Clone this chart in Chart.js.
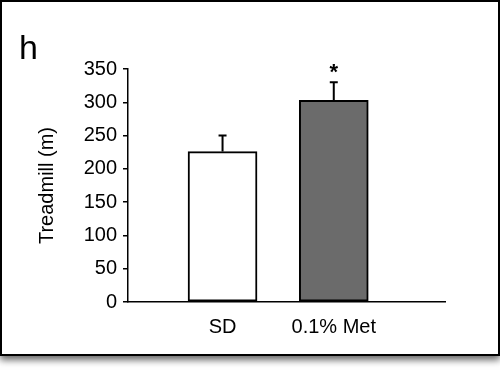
<!DOCTYPE html>
<html>
<head>
<meta charset="utf-8">
<script src="https://cdn.jsdelivr.net/npm/chart.js@4.4.1/dist/chart.umd.min.js"></script>
<style>
	html, body {
		margin: 0;
		padding: 0;
		background: #fff;
	}
	#frame {
		position: absolute;
		left: 0;
		top: 0;
		width: 496px;
		height: 352px;
		border: 2px solid #000;
		box-shadow: 0 4px 7px rgba(0, 0, 0, 0.6);
		background: #fff;
	}
	#wrap {
		position: absolute;
		left: 0;
		top: 0;
		width: 500px;
		height: 374px;
	}
</style>
</head>
<body>
<div id="frame"></div>
<div id="wrap"><canvas id="treadmillChart" width="500" height="374"></canvas></div>
<script>
const treadmillCanvas = document.getElementById("treadmillChart");

// data
const groups = ["SD", "0.1% Met"];
const means = [226, 303];
const errors = [24, 27];
const barColors = ["#ffffff", "#6b6b6b"];
const significance = ["", "*"];
const yTicks = [0, 50, 100, 150, 200, 250, 300, 350];

const font = "'Liberation Sans', Arial, sans-serif";

//////////////////////////////// error bars + star + panel letter

const extrasPlugin = {
	id: "extras",
	afterDatasetsDraw(chart) {
		const ctx = chart.ctx;
		const meta = chart.getDatasetMeta(0);
		const yScale = chart.scales.y;
		ctx.save();
		ctx.strokeStyle = "#000";
		ctx.lineWidth = 2;
		meta.data.forEach((bar, i) => {
			const top = yScale.getPixelForValue(means[i] + errors[i]);
			ctx.beginPath();
			ctx.moveTo(bar.x, bar.y);
			ctx.lineTo(bar.x, top);
			ctx.moveTo(bar.x - 4, top);
			ctx.lineTo(bar.x + 4, top);
			ctx.stroke();
			if (significance[i]) {
				ctx.fillStyle = "#000";
				ctx.font = "bold 22px " + font;
				ctx.textAlign = "center";
				ctx.textBaseline = "middle";
				ctx.fillText(significance[i], bar.x, top - 9);
			}
		});
		ctx.fillStyle = "#000";
		ctx.font = "34px " + font;
		ctx.textAlign = "left";
		ctx.textBaseline = "alphabetic";
		ctx.fillText("h", 19, 59);
		ctx.restore();
	},
};

//////////////////////////////// chart

const treadmillData = {
	datasets: [
		{
			data: groups.map((g, i) => ({ x: i + 1, y: means[i] })),
			backgroundColor: barColors,
			borderColor: "#000",
			borderWidth: 2,
			borderSkipped: false,
			barThickness: 69,
		},
	],
};

const treadmillOptions = {
	responsive: false,
	animation: false,
	layout: {
		padding: { left: 0, right: 55, top: 69, bottom: 0 },
	},
	plugins: {
		legend: { display: false },
		tooltip: { enabled: false },
	},
	scales: {
		x: {
			type: "linear",
			offset: false,
			min: 0.15,
			max: 3,
			afterBuildTicks: (scale) => {
				scale.ticks = groups.map((g, i) => ({ value: i + 1 }));
			},
			afterFit: (scale) => {
				scale.height = 72;
			},
			ticks: {
				color: "#000",
				font: { family: font, size: 20 },
				padding: 13,
				maxRotation: 0,
				callback: (v) => groups[v - 1],
			},
			grid: { display: true, offset: false, drawOnChartArea: false, drawTicks: false },
			border: { display: true, color: "#000", width: 1.5 },
		},
		y: {
			min: 0,
			max: 350,
			afterBuildTicks: (scale) => {
				scale.ticks = yTicks.map((v) => ({ value: v }));
			},
			afterFit: (scale) => {
				scale.width = 128;
			},
			ticks: {
				color: "#000",
				font: { family: font, size: 20 },
				padding: 6,
			},
			grid: {
				drawOnChartArea: false,
				drawTicks: true,
				tickLength: 5,
				color: "#000",
				lineWidth: 1.5,
			},
			border: { display: true, color: "#000", width: 1.5 },
			title: {
				display: true,
				text: "Treadmill (m)",
				color: "#000",
				font: { family: font, size: 20 },
				padding: { top: 35, bottom: 0 },
			},
		},
	},
};

new Chart(treadmillCanvas, {
	type: "bar",
	data: treadmillData,
	options: treadmillOptions,
	plugins: [extrasPlugin],
});
</script>
</body>
</html>
